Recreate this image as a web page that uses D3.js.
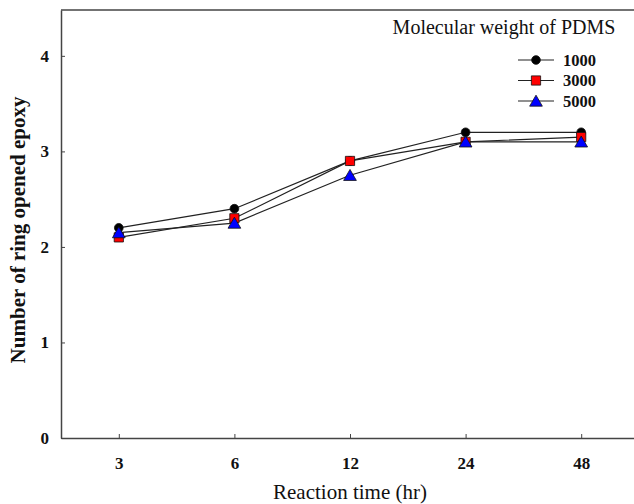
<!DOCTYPE html>
<html>
<head>
<meta charset="utf-8">
<script src="https://cdn.jsdelivr.net/npm/d3@7"></script>
<style>
  body { margin: 0; background: #fff; }
  svg { display: block; font-family: "Liberation Serif", "DejaVu Serif", serif; }
</style>
</head>
<body>
<svg id="chart" width="634" height="504"></svg>
<script>
var times = ["3", "6", "12", "24", "48"];
var yTicks = [0, 1, 2, 3, 4];
var seriesNames = ["1000", "3000", "5000"];
var mw1000 = [2.2, 2.4, 2.9, 3.2, 3.2];
var mw3000 = [2.1, 2.3, 2.9, 3.1, 3.15];
var mw5000 = [2.15, 2.25, 2.75, 3.1, 3.1];

var series = [
  {name: seriesNames[0], values: mw1000, shape: "circle", fill: "#000"},
  {name: seriesNames[1], values: mw3000, shape: "square", fill: "#ff0000"},
  {name: seriesNames[2], values: mw5000, shape: "triangle", fill: "#0000ff"}
];

var svg = d3.select("#chart"),
    margin = {top: 10, right: -5, bottom: 66, left: 61},
    width = 634 - margin.left - margin.right,
    height = 504 - margin.top - margin.bottom,
    g = svg.append("g").attr("transform", "translate(" + margin.left + "," + margin.top + ")");

var x = d3.scalePoint()
    .domain(times)
    .range([0, width])
    .padding(0.5);

var y = d3.scaleLinear()
    .domain([0, 4.48])
    .range([height, 0]);

var axisColor = "#444";

// top edge of the frame (right edge falls outside the picture)
g.append("line")
    .attr("x1", 0).attr("x2", width)
    .attr("stroke", axisColor)
    .attr("stroke-width", 1.5);

var xAxis = g.append("g")
    .attr("transform", "translate(0," + height + ")")
    .call(d3.axisBottom(x).tickSizeInner(-4).tickSizeOuter(0).tickPadding(19));

var yAxis = g.append("g")
    .call(d3.axisLeft(y).tickValues(yTicks).tickFormat(d3.format("d")).tickSizeInner(-4).tickSizeOuter(0).tickPadding(12));

[xAxis, yAxis].forEach(function(a) {
  a.select(".domain").attr("stroke", axisColor).attr("stroke-width", 1.5);
  a.selectAll(".tick line").attr("stroke", axisColor);
  a.selectAll(".tick text")
      .attr("fill", "#111")
      .style("font-family", "'Liberation Serif', serif")
      .style("font-size", "17px")
      .style("font-weight", "bold");
});

var line = d3.line()
    .x(function(d, i) { return x(times[i]); })
    .y(function(d) { return y(d); });

var symbolFor = function(shape) {
  if (shape === "circle") return d3.symbol().type(d3.symbolCircle).size(60)();
  if (shape === "square") return d3.symbol().type(d3.symbolSquare).size(85)();
  return d3.symbol().type(d3.symbolTriangle).size(70)();
};

series.forEach(function(s) {
  g.append("path")
      .datum(s.values)
      .attr("fill", "none")
      .attr("stroke", "#222")
      .attr("stroke-width", 1.2)
      .attr("d", line);
});

series.forEach(function(s) {
  g.selectAll(".pt-" + s.name)
    .data(s.values)
    .enter().append("path")
      .attr("class", "pt-" + s.name)
      .attr("transform", function(d, i) { return "translate(" + x(times[i]) + "," + (y(d) + (s.shape === "triangle" ? 1.5 : 0)) + ")"; })
      .attr("d", symbolFor(s.shape))
      .attr("fill", s.fill)
      .attr("stroke", "#111")
      .attr("stroke-width", 0.8);
});

// legend
svg.append("text")
    .attr("x", 504)
    .attr("y", 34)
    .attr("text-anchor", "middle")
    .style("font-size", "20px")
    .attr("fill", "#111")
    .text("Molecular weight of PDMS");

var legend = svg.selectAll(".legend")
    .data(series)
    .enter().append("g")
      .attr("class", "legend")
      .attr("transform", function(d, i) { return "translate(518," + (60 + i * 20.5) + ")"; });

legend.append("line")
    .attr("x1", 0).attr("x2", 36)
    .attr("stroke", "#222")
    .attr("stroke-width", 1.2);

legend.append("path")
    .attr("transform", function(d) { return "translate(18," + (d.shape === "triangle" ? 1.5 : 0) + ")"; })
    .attr("d", function(d) { return symbolFor(d.shape); })
    .attr("fill", function(d) { return d.fill; })
    .attr("stroke", "#111")
    .attr("stroke-width", 0.8);

legend.append("text")
    .attr("x", 45)
    .attr("dy", "0.35em")
    .style("font-size", "16.5px")
    .style("font-weight", "bold")
    .attr("fill", "#111")
    .text(function(d) { return d.name; });

// axis titles
svg.append("text")
    .attr("x", margin.left + x("12"))
    .attr("y", 499)
    .attr("text-anchor", "middle")
    .style("font-size", "21px")
    .attr("fill", "#111")
    .text("Reaction time (hr)");

svg.append("text")
    .attr("transform", "translate(25," + (margin.top + height / 2 + 6) + ") rotate(-90)")
    .attr("text-anchor", "middle")
    .style("font-size", "21px")
    .style("font-weight", "bold")
    .attr("fill", "#111")
    .text("Number of  ring opened epoxy");
</script>
</body>
</html>
